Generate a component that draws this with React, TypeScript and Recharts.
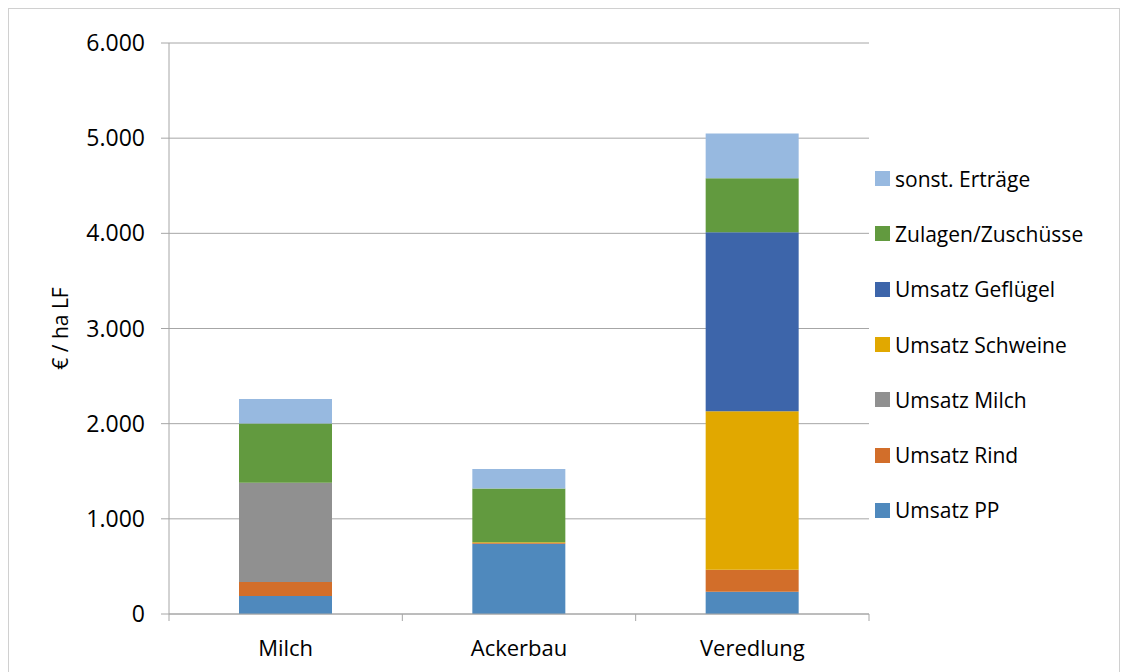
import React from "react";
import { BarChart, Bar, XAxis, YAxis, CartesianGrid } from "recharts";

const categories = ["Milch", "Ackerbau", "Veredlung"];
const umsatzPP = [190, 737, 234];
const umsatzRind = [147, 8, 231];
const umsatzMilch = [1043, 0, 0];
const umsatzSchweine = [0, 10, 1665];
const umsatzGefluegel = [0, 0, 1882];
const zulagen = [622, 565, 566];
const sonstErtraege = [258, 204, 472];
const yTicks = [0, 1000, 2000, 3000, 4000, 5000, 6000];

const series = [
  { key: "pp", name: "Umsatz PP", color: "#4f89bd", values: umsatzPP },
  { key: "rind", name: "Umsatz Rind", color: "#d26e2a", values: umsatzRind },
  { key: "milch", name: "Umsatz Milch", color: "#909090", values: umsatzMilch },
  { key: "schweine", name: "Umsatz Schweine", color: "#e1a800", values: umsatzSchweine },
  { key: "gefluegel", name: "Umsatz Geflügel", color: "#3d65aa", values: umsatzGefluegel },
  { key: "zulagen", name: "Zulagen/Zuschüsse", color: "#629a3f", values: zulagen },
  { key: "sonst", name: "sonst. Erträge", color: "#97b9e0", values: sonstErtraege },
];

const data = categories.map((c, i) => {
  const row: Record<string, number | string> = { name: c };
  series.forEach((s) => (row[s.key] = s.values[i]));
  return row;
});

const FONT = "'Open Sans', sans-serif";
const W = 1100;
const H = 663;
const M = { top: 34, right: 240, bottom: 0, left: 0 };
const X_H = 58;
const Y_W = 160;
const PLOT_W = W - M.right - Y_W;
const BAND = PLOT_W / categories.length;
const GRID = "#a6a6a6";

const fmt = (v: number) => String(v).replace(/\B(?=(\d{3})+(?!\d))/g, ".");

function XTick(props: any) {
  const { x, y, payload, index } = props;
  const left = x - BAND / 2;
  const top = y - 8;
  return (
    <g>
      <line x1={left} x2={left} y1={top} y2={top + 7} stroke={GRID} />
      {index === categories.length - 1 && (
        <line x1={left + BAND} x2={left + BAND} y1={top} y2={top + 7} stroke={GRID} />
      )}
      <text x={x} y={top + 42} textAnchor="middle" fontFamily={FONT} fontSize={22} fill="#000">
        {payload.value}
      </text>
    </g>
  );
}

function LegendBox() {
  return (
    <div
      style={{
        position: "absolute",
        left: 866,
        top: 142,
        fontFamily: FONT,
        fontSize: 21,
        color: "#000",
      }}
    >
      {[...series].reverse().map((s) => (
        <div key={s.key} style={{ display: "flex", alignItems: "center", height: 55.3 }}>
          <span style={{ width: 15, height: 15, background: s.color, marginRight: 5 }} />
          <span>{s.name}</span>
        </div>
      ))}
    </div>
  );
}

export default function App() {
  return (
    <div
      style={{
        position: "relative",
        width: W + 10,
        height: H + 20,
        border: "1px solid #d0d0d0",
        background: "#fff",
      }}
    >
      <BarChart width={W} height={H} data={data} margin={M} barCategoryGap="30%">
        <CartesianGrid vertical={false} stroke={GRID} />
        <XAxis
          dataKey="name"
          height={X_H}
          axisLine={{ stroke: GRID }}
          tickLine={false}
          tick={<XTick />}
          interval={0}
        />
        <YAxis
          width={Y_W}
          domain={[0, 6000]}
          ticks={yTicks}
          interval={0}
          tickFormatter={fmt}
          axisLine={{ stroke: GRID }}
          tickLine={{ stroke: GRID }}
          tickSize={8}
          tickMargin={16}
          tick={{ fontFamily: FONT, fontSize: 23, fill: "#000" }}
          label={{
            value: "€ / ha LF",
            angle: -90,
            position: "insideLeft",
            offset: 52,
            style: { fontFamily: FONT, fontSize: 21, fill: "#000", textAnchor: "middle" },
          }}
        />
        {series.map((s) => (
          <Bar
            key={s.key}
            dataKey={s.key}
            name={s.name}
            stackId="a"
            fill={s.color}
            isAnimationActive={false}
          />
        ))}
      </BarChart>
      <LegendBox />
    </div>
  );
}
